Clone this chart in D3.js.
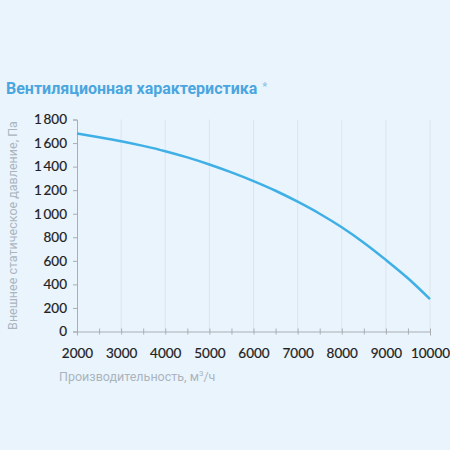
<!DOCTYPE html>
<html>
<head>
<meta charset="utf-8">
<script src="https://cdn.jsdelivr.net/npm/d3@7"></script>
<style>
  html, body { margin: 0; padding: 0; background: #eaf4fd; }
  svg { display: block; }
</style>
</head>
<body>
<div class="chartWrap"></div>
<script>
// airflow, m3/h
var flow = [2000, 2500, 3000, 3500, 4000, 4500, 5000, 5500, 6000, 6500, 7000, 7500, 8000, 8500, 9000, 9500, 10000];
// static pressure, Pa
var pressure = [1681, 1650, 1616, 1576, 1531, 1478, 1418, 1351, 1277, 1195, 1102, 1000, 885, 754, 608, 452, 275];
var xTicks = [2000, 3000, 4000, 5000, 6000, 7000, 8000, 9000, 10000];
var xMinorTicks = [2000, 2500, 3000, 3500, 4000, 4500, 5000, 5500, 6000, 6500, 7000, 7500, 8000, 8500, 9000, 9500, 10000];
var yTicks = [0, 200, 400, 600, 800, 1000, 1200, 1400, 1600, 1800];

var width = 450, height = 450;
var plotLeft = 77, plotRight = 430, plotTop = 119.5, plotBottom = 331.5;

var svg = d3.select('.chartWrap')
  .append('svg')
  .attr('width', width)
  .attr('height', height);

svg.append('rect')
  .attr('width', width)
  .attr('height', height)
  .attr('fill', '#eaf4fd');

var x = d3.scaleLinear().domain([2000, 10000]).range([plotLeft, plotRight]);
var y = d3.scaleLinear().domain([0, 1800]).range([plotBottom, plotTop]);

// title
var title = svg.append('text')
  .attr('x', 6)
  .attr('y', 94)
  .style('font-family', 'Roboto')
  .style('font-weight', 'bold')
  .style('font-size', '16px')
  .style('fill', '#4aa6df');
title.append('tspan').text('Вентиляционная характеристика');
title.append('tspan')
  .attr('dx', 5)
  .attr('dy', -4)
  .style('font-size', '11px')
  .style('fill', '#8cc6ea')
  .text('*');

// vertical grid
svg.append('g')
  .selectAll('line')
  .data(xTicks.slice(1))
  .enter()
    .append('line')
    .attr('x1', function(d){ return x(d); })
    .attr('x2', function(d){ return x(d); })
    .attr('y1', y(1800))
    .attr('y2', y(0))
    .style('stroke', '#dde5ec')
    .style('stroke-width', 1);

// y axis
var yAxis = svg.append('g')
  .attr('transform', 'translate(' + plotLeft + ',0)')
  .call(d3.axisLeft(y)
    .tickValues(yTicks)
    .tickSize(4)
    .tickPadding(6)
    .tickFormat(function(d){ return d3.format(',')(d).replace(',', '\u2009'); }));

// x axis
var xAxis = svg.append('g')
  .attr('transform', 'translate(0,' + plotBottom + ')')
  .call(d3.axisBottom(x)
    .tickValues(xMinorTicks)
    .tickSize(4)
    .tickFormat(function(d){ return d % 1000 === 0 ? d : ''; }))
  .call(function(g){ g.selectAll('.tick line').attr('y1', -3).attr('y2', 3); })
  .call(function(g){ g.selectAll('.tick text').attr('dy', 0).attr('y', 26); });

[yAxis, xAxis].forEach(function(g){
  g.select('.domain').style('stroke', '#a9aeb3');
  g.selectAll('.tick line').style('stroke', '#a9aeb3');
  g.selectAll('.tick text')
    .style('font-family', 'Lato')
    .style('font-size', '13.5px')
    .style('fill', '#222')
    .style('stroke', '#222')
    .style('stroke-width', 0.2);
});

// axis titles
var xTitle = svg.append('text')
  .attr('x', 59)
  .attr('y', 381)
  .style('font-family', 'Roboto')
  .style('font-size', '12.5px')
  .style('fill', '#aab4bd');
xTitle.append('tspan').text('Производительность, м');
xTitle.append('tspan').attr('dy', -5).style('font-size', '8px').text('3');
xTitle.append('tspan').attr('dy', 5).text('/ч');

svg.append('text')
  .attr('transform', 'translate(17,' + (y(900)) + ') rotate(-90)')
  .attr('text-anchor', 'middle')
  .style('font-family', 'Roboto')
  .style('font-size', '12.5px')
  .style('fill', '#aab4bd')
  .text('Внешнее статическое давление, Па');

// curve
var line = d3.line()
  .x(function(d){ return x(d[0]); })
  .y(function(d){ return y(d[1]); })
  .curve(d3.curveMonotoneX);

svg.append('path')
  .datum(d3.zip(flow, pressure))
  .attr('d', line)
  .style('fill', 'none')
  .style('stroke', '#3fb0e5')
  .style('stroke-width', 2.5);
</script>
</body>
</html>
